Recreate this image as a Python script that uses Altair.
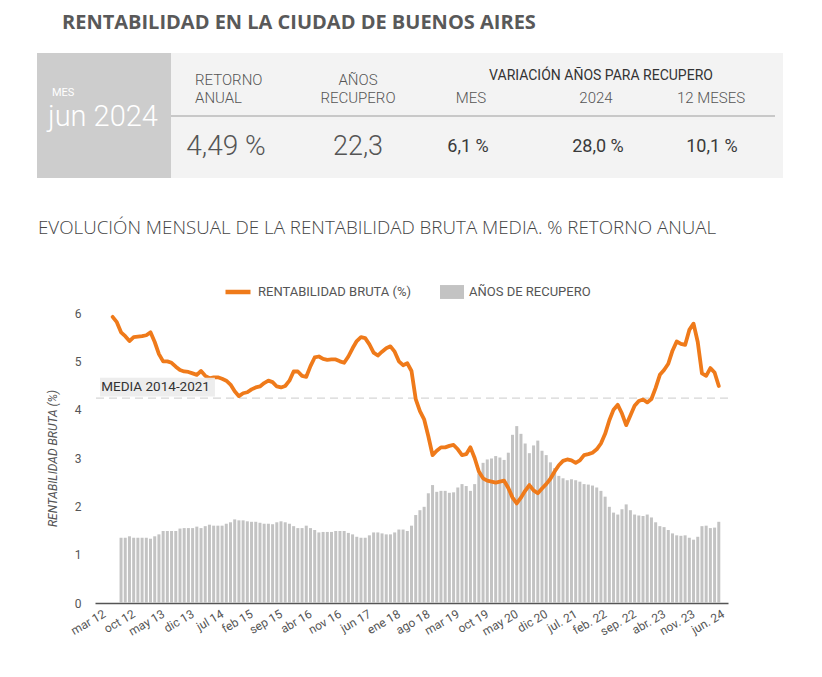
import altair as alt
import pandas as pd

# ---------------- datos ----------------
titulo = "RENTABILIDAD EN LA CIUDAD DE BUENOS AIRES"
subtitulo = "EVOLUCIÓN MENSUAL DE LA RENTABILIDAD BRUTA MEDIA. % RETORNO ANUAL"
mes_etiqueta = "MES"
mes_valor = "jun 2024"
cabecera_1 = ["RETORNO", "AÑOS"]
cabecera_2 = ["ANUAL", "RECUPERO"]
variacion_titulo = "VARIACIÓN AÑOS PARA RECUPERO"
variacion_columnas = ["MES", "2024", "12 MESES"]
valores_principales = ["4,49 %", "22,3"]
valores_variacion = ["6,1 %", "28,0 %", "10,1 %"]

media_etiqueta = "MEDIA 2014-2021"
media_valor = 4.24

serie_linea = "RENTABILIDAD BRUTA (%)"
serie_barras = "AÑOS DE RECUPERO"

# etiquetas del eje x (una cada 7 meses, desde mar 12)
etiquetas_x = ["mar 12", "oct 12", "may 13", "dic 13", "jul 14", "feb 15", "sep 15",
               "abr 16", "nov 16", "jun 17", "ene 18", "ago 18", "mar 19", "oct 19",
               "may 20", "dic 20", "jul. 21", "feb. 22", "sep. 22", "abr. 23",
               "nov. 23", "jun. 24"]
paso_etiquetas = 7

# rentabilidad bruta (%) mensual, jun 2012 - jun 2024
rentabilidad = [
    5.92, 5.81, 5.60, 5.52, 5.42, 5.50, 5.51, 5.52, 5.54, 5.60,
    5.40, 5.15, 5.00, 5.00, 4.97, 4.89, 4.82, 4.79, 4.78, 4.75,
    4.72, 4.80, 4.70, 4.65, 4.67, 4.67, 4.64, 4.60, 4.52, 4.38,
    4.28, 4.34, 4.36, 4.42, 4.46, 4.48, 4.55, 4.60, 4.57, 4.48,
    4.46, 4.49, 4.60, 4.79, 4.79, 4.70, 4.68, 4.90, 5.08, 5.10,
    5.05, 5.03, 5.04, 5.04, 5.00, 4.97, 5.10, 5.27, 5.42, 5.50,
    5.48, 5.35, 5.18, 5.12, 5.20, 5.27, 5.31, 5.20, 5.00, 4.92,
    4.96, 4.80, 4.22, 3.97, 3.80, 3.45, 3.06, 3.15, 3.22, 3.22,
    3.25, 3.27, 3.18, 3.06, 3.08, 3.22, 3.00, 2.72, 2.58, 2.53,
    2.51, 2.49, 2.51, 2.53, 2.38, 2.18, 2.06, 2.18, 2.32, 2.44,
    2.33, 2.27, 2.37, 2.46, 2.57, 2.72, 2.85, 2.94, 2.97, 2.95,
    2.90, 2.95, 3.06, 3.08, 3.11, 3.18, 3.30, 3.50, 3.78, 4.00,
    4.10, 3.92, 3.68, 3.88, 4.08, 4.18, 4.21, 4.15, 4.22, 4.45,
    4.72, 4.82, 4.95, 5.22, 5.41, 5.36, 5.34, 5.65, 5.78, 5.40,
    4.75, 4.70, 4.86, 4.77, 4.49,
]

# años de recupero (en la escala del eje), ago 2012 - jun 2024
anos_recupero = [
    1.35, 1.35, 1.38, 1.35, 1.35, 1.35, 1.35, 1.33, 1.38, 1.42,
    1.49, 1.49, 1.49, 1.49, 1.54, 1.55, 1.55, 1.55, 1.58, 1.55,
    1.59, 1.62, 1.60, 1.60, 1.60, 1.64, 1.67, 1.73, 1.71, 1.71,
    1.69, 1.68, 1.68, 1.66, 1.64, 1.64, 1.63, 1.67, 1.69, 1.67,
    1.64, 1.59, 1.55, 1.55, 1.60, 1.55, 1.51, 1.46, 1.47, 1.47,
    1.47, 1.49, 1.49, 1.49, 1.45, 1.42, 1.37, 1.35, 1.35, 1.40,
    1.46, 1.46, 1.44, 1.42, 1.42, 1.46, 1.52, 1.52, 1.49, 1.60,
    1.82, 1.92, 1.99, 2.27, 2.44, 2.30, 2.32, 2.32, 2.28, 2.29,
    2.39, 2.46, 2.42, 2.32, 2.46, 2.68, 2.90, 2.97, 2.99, 3.04,
    3.01, 2.96, 3.11, 3.48, 3.66, 3.50, 3.30, 3.10, 3.26, 3.36,
    3.15, 3.06, 2.91, 2.79, 2.63, 2.58, 2.54, 2.56, 2.54, 2.51,
    2.46, 2.45, 2.43, 2.39, 2.32, 2.20, 1.99, 1.87, 1.83, 1.94,
    2.04, 1.92, 1.83, 1.81, 1.80, 1.83, 1.77, 1.67, 1.59, 1.57,
    1.51, 1.44, 1.40, 1.39, 1.40, 1.35, 1.31, 1.37, 1.59, 1.60,
    1.55, 1.56, 1.68,
]

primer_mes_linea = 3    # jun 12 (meses desde mar 12)
primer_mes_barras = 5   # ago 12
ultimo_mes = 147        # jun 24

# ---------------- tablas ----------------
df_linea = pd.DataFrame({
    "m": list(range(primer_mes_linea, primer_mes_linea + len(rentabilidad))),
    "valor": rentabilidad,
    "serie": serie_linea,
})
df_barras = pd.DataFrame({
    "m": list(range(primer_mes_barras, primer_mes_barras + len(anos_recupero))),
    "valor": anos_recupero,
    "serie": serie_barras,
})
df_etiquetas = pd.DataFrame({
    "m": [i * paso_etiquetas for i in range(len(etiquetas_x))],
    "etiqueta": etiquetas_x,
})

NARANJA = "#ef7a1a"
GRIS_BARRA = "#c3c3c3"
TXT = "#555555"

eje_x = alt.Axis(values=list(range(0, ultimo_mes + 1, paso_etiquetas)), labels=False,
                 title=None, grid=False, ticks=False, tickSize=0, domain=True,
                 domainColor="#555555", domainWidth=1.5)
eje_y = alt.Axis(values=[0, 1, 2, 3, 4, 5, 6], title="RENTABILIDAD BRUTA (%)",
                 titleFont="Roboto", titleFontSize=12, titleFontWeight="normal",
                 titleFontStyle="italic", titleColor=TXT, titlePadding=15,
                 grid=False, ticks=False, tickSize=0, domain=False,
                 labelPadding=14, labelFont="Roboto", labelFontSize=12, labelColor=TXT)

leyenda_linea = alt.Legend(
    orient="none", legendX=128, legendY=-36, title=None,
    labelFont="Roboto", labelFontSize=13, labelColor=TXT, labelOffset=5,
    symbolType="stroke", symbolSize=625, symbolStrokeWidth=4.5)
leyenda_barras = alt.Legend(
    orient="none", legendX=345, legendY=-33, title=None,
    labelFont="Roboto", labelFontSize=13, labelColor=TXT, labelOffset=5,
    symbolType="M-1,-0.58H1V0.58H-1Z", symbolSize=576, symbolStrokeWidth=0,
    symbolOpacity=1)

escala_x = alt.Scale(domain=[0, 148], nice=False, zero=False)
escala_y = alt.Scale(domain=[0, 6], nice=False)
x_enc = alt.X("m:Q", scale=escala_x, axis=eje_x)
y_enc = alt.Y("valor:Q", scale=escala_y, axis=eje_y)

barras = alt.Chart(df_barras).mark_bar(size=3).encode(
    x=x_enc, y=y_enc,
    fill=alt.Fill("serie:N", scale=alt.Scale(domain=[serie_barras], range=[GRIS_BARRA]),
                  legend=leyenda_barras))
linea = alt.Chart(df_linea).mark_line(strokeWidth=3.8, strokeJoin="round", strokeCap="round").encode(
    x=x_enc, y=y_enc,
    stroke=alt.Stroke("serie:N", scale=alt.Scale(domain=[serie_linea], range=[NARANJA]),
                      legend=leyenda_linea))

# etiquetas del eje x, giradas, colocadas con la escala x
etiquetas = alt.Chart(df_etiquetas).mark_text(
    angle=330, align="right", baseline="top", font="Roboto", fontSize=12,
    color=TXT, dx=-1, dy=6).encode(
    x=alt.X("m:Q", scale=escala_x, axis=eje_x), y=alt.value(290), text="etiqueta:N")

media_df = pd.DataFrame({"v": [media_valor]})
regla_media = alt.Chart(media_df).mark_rule(color="#d6d6d6", strokeWidth=1.2, strokeDash=[8, 5]).encode(
    y="v:Q")
caja_media = alt.Chart(media_df).mark_rect(color="#ebebeb", opacity=0.9).encode(
    x=alt.datum(0), x2=alt.datum(27.3), y=alt.datum(4.27), y2=alt.datum(4.66))
texto_media = alt.Chart(media_df).mark_text(
    text=media_etiqueta, align="left", baseline="middle", font="Roboto", fontSize=13.5,
    color="#333333").encode(x=alt.datum(0.3), y=alt.datum(4.47))

# ---------------- cabecera (anotaciones) ----------------
UNO = alt.Data(values=[{"k": 1}])


def texto(s, x, y, size, color=TXT, weight="normal", font="Roboto", align="left"):
    return alt.Chart(UNO).mark_text(
        text=s, align=align, baseline="middle", fontSize=size, font=font,
        fontWeight=weight, color=color).encode(x=alt.value(x), y=alt.value(y))


def caja(x, x2, y, y2, color):
    return alt.Chart(UNO).mark_rect(color=color).encode(
        x=alt.value(x), x2=alt.value(x2), y=alt.value(y), y2=alt.value(y2))


cabecera = [
    texto(titulo, -33, -290, 20, color="#595959", weight="bold", font="Open Sans"),
    caja(-58, 688, -260, -135, "#f3f3f3"),
    caja(-58, 76, -260, -135, "#cdcdcd"),
    alt.Chart(UNO).mark_rule(color="#c8c8c8", strokeWidth=2).encode(
        x=alt.value(76), x2=alt.value(680), y=alt.value(-197)),
    texto(mes_etiqueta, -43, -220, 11, color="#ffffff"),
    texto(mes_valor, -47, -196, 29, color="#ffffff", weight=300),
    texto(cabecera_1[0], 100, -233, 15, weight=300),
    texto(cabecera_2[0], 100, -215, 15, weight=300),
    texto(cabecera_1[1], 263, -233, 15, weight=300, align="center"),
    texto(cabecera_2[1], 263, -215, 15, weight=300, align="center"),
    texto(variacion_titulo, 506, -237, 14, color="#333333", align="center"),
    texto(variacion_columnas[0], 376, -215, 15, weight=300, align="center"),
    texto(variacion_columnas[1], 501, -215, 15, weight=300, align="center"),
    texto(variacion_columnas[2], 616, -215, 15, weight=300, align="center"),
    texto(valores_principales[0], 131, -166, 28, weight=300, align="center"),
    texto(valores_principales[1], 263, -166, 27, weight=300, align="center"),
    texto(valores_variacion[0], 373, -166, 18, color="#3a3a3a", align="center"),
    texto(valores_variacion[1], 503, -166, 18, color="#3a3a3a", align="center"),
    texto(valores_variacion[2], 617, -166, 18, color="#3a3a3a", align="center"),
    texto(subtitulo, -57, -85, 18.8, color="#444444", weight=300, font="Open Sans"),
]

chart = alt.layer(
    *cabecera, barras, regla_media, linea, caja_media, texto_media, etiquetas
).resolve_scale(
    fill="independent", stroke="independent"
).properties(
    width=633, height=290,
    autosize=alt.AutoSizeParams(type="none"),
    padding={"left": 87, "top": 305, "right": 86, "bottom": 66},
    background="#ffffff",
).configure_view(stroke=None)

chart.save("out.html", embed_options={"renderer": "svg", "actions": False})
